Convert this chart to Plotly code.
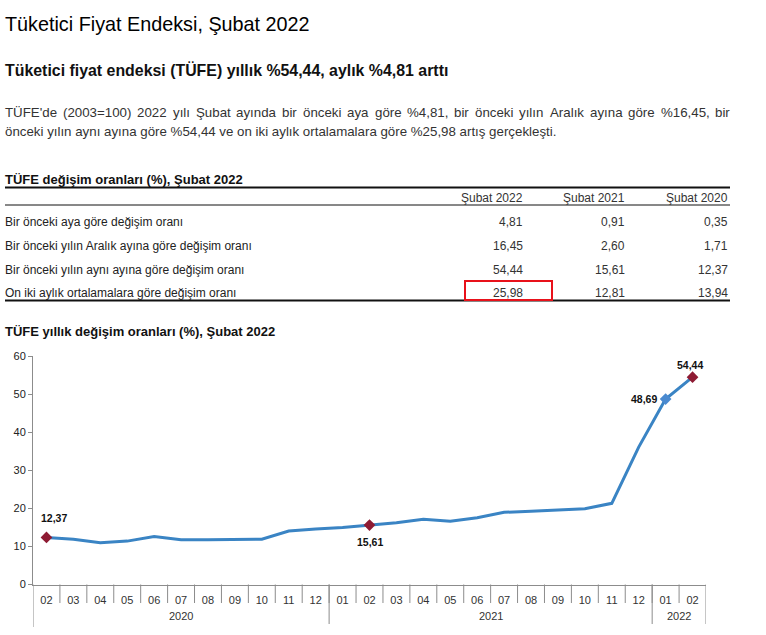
import plotly.graph_objects as go

W, H = 766, 635
def PX(x):
    return x / W
def PY(y):
    return 1 - y / H

# ---------------- data ----------------
months = ["02", "03", "04", "05", "06", "07", "08", "09", "10", "11", "12",
          "01", "02", "03", "04", "05", "06", "07", "08", "09", "10", "11", "12",
          "01", "02"]
years = ["2020"] * 11 + ["2021"] * 12 + ["2022"] * 2
cpi_annual = [12.37, 11.86, 10.94, 11.39, 12.62, 11.76, 11.77, 11.75, 11.89, 14.03, 14.60,
              14.97, 15.61, 16.19, 17.14, 16.59, 17.53, 18.95, 19.25, 19.58, 19.89, 21.31, 36.08,
              48.69, 54.44]
highlight_idx = [0, 12, 23, 24]
highlight_colors = ["#8E1B33", "#8E1B33", "#4A8AD0", "#8E1B33"]
label_shift = [(8, 19), (0, -17), (-22, 0), (-3, 12)]

page_title = "Tüketici Fiyat Endeksi, Şubat 2022"
page_subtitle = "Tüketici fiyat endeksi (TÜFE) yıllık %54,44, aylık %4,81 arttı"
para_line1 = ("TÜFE'de (2003=100) 2022 yılı Şubat ayında bir önceki aya göre %4,81, "
              "bir önceki yılın Aralık ayına göre %16,45, bir")
para_line2 = ("önceki yılın aynı ayına göre %54,44 ve on iki aylık ortalamalara göre "
              "%25,98 artış gerçekleşti.")

table_title = "TÜFE değişim oranları (%), Şubat 2022"
table_cols = ["Şubat 2022", "Şubat 2021", "Şubat 2020"]
table_rows = ["Bir önceki aya göre değişim oranı",
              "Bir önceki yılın Aralık ayına göre değişim oranı",
              "Bir önceki yılın aynı ayına göre değişim oranı",
              "On iki aylık ortalamalara göre değişim oranı"]
table_vals = [[4.81, 0.91, 0.35],
              [16.45, 2.60, 1.71],
              [54.44, 15.61, 12.37],
              [25.98, 12.81, 13.94]]
chart_title = "TÜFE yıllık değişim oranları (%), Şubat 2022"

def tr(v):
    return f"{v:.2f}".replace(".", ",")

categories = [f"{m}/{y}" for m, y in zip(months, years)]

FONT = "Liberation Sans, Arial, sans-serif"
LINE_COLOR = "#3A84C4"
AXIS_GRAY = "#8C8C8C"

fig = go.Figure()
fig.add_trace(go.Scatter(x=categories, y=cpi_annual, mode="lines",
                         line=dict(color=LINE_COLOR, width=3), hoverinfo="skip"))
fig.add_trace(go.Scatter(x=[categories[i] for i in highlight_idx],
                         y=[cpi_annual[i] for i in highlight_idx],
                         mode="markers",
                         marker=dict(symbol="diamond", size=9, color=highlight_colors),
                         hoverinfo="skip"))

annotations = []
shapes = []

def text(x, y, s, size, bold=False, color="#222", xanchor="left"):
    annotations.append(dict(x=PX(x), y=PY(y), xref="paper", yref="paper",
                            text=(f"<b>{s}</b>" if bold else s), showarrow=False,
                            xanchor=xanchor, yanchor="middle", borderpad=0, borderwidth=0,
                            font=dict(family=FONT, size=size, color=color)))

# titles
text(5, 24, page_title, 19.8, color="#000")
text(5, 70, page_subtitle, 15.9, bold=True, color="#111")

# justified paragraph (Arial metrics, per 1000 em)
AW = {' ': 278, "'": 191, '(': 333, ')': 333, '%': 889, ',': 278, '.': 278, '=': 584,
      'A': 667, 'B': 667, 'E': 667, 'F': 611, 'T': 611, 'Ü': 722, 'Ş': 667,
      'a': 556, 'b': 556, 'c': 500, 'd': 556, 'e': 556, 'f': 278, 'g': 556, 'h': 556,
      'i': 222, 'ı': 278, 'j': 222, 'k': 500, 'l': 222, 'm': 833, 'n': 556, 'o': 556,
      'ö': 556, 'p': 556, 'r': 333, 's': 500, 'ş': 500, 't': 278, 'u': 556, 'ü': 556,
      'v': 500, 'y': 500, 'z': 500, 'ğ': 556, 'ç': 500}
for d in "0123456789":
    AW[d] = 556
PFS = 13.3
def wwidth(w):
    return sum(AW.get(c, 556) for c in w) * PFS / 1000

words = para_line1.split(" ")
ww = [wwidth(w) for w in words]
gap = (725 - sum(ww)) / (len(words) - 1)
cx = 5
for w, wd in zip(words, ww):
    text(cx, 112, w, PFS, color="#333")
    cx += wd + gap
text(5, 132, para_line2, PFS, color="#333")

# table
text(5, 179, table_title, 13, bold=True, color="#111")
col_right = [523, 625, 728]
for c, lab in enumerate(table_cols):
    text(col_right[c], 198, lab, 12, color="#333", xanchor="right")
row_y = [222, 246, 269.5, 293]
for r, lab in enumerate(table_rows):
    text(5, row_y[r], lab, 12, color="#222")
    for c in range(3):
        text(col_right[c], row_y[r], tr(table_vals[r][c]), 12, color="#333", xanchor="right")
for y0, wdt in [(187.5, 2), (205, 1), (300.5, 2)]:
    shapes.append(dict(type="line", xref="paper", yref="paper", x0=PX(5), x1=PX(730),
                       y0=PY(y0), y1=PY(y0), line=dict(color="#111", width=wdt)))
shapes.append(dict(type="rect", xref="paper", yref="paper", x0=PX(465), x1=PX(552),
                   y0=PY(281), y1=PY(300), line=dict(color="#E8111A", width=2)))

# chart title
text(5, 331, chart_title, 13, bold=True, color="#111")

# data labels
for k, i in enumerate(highlight_idx):
    xs, ys = label_shift[k]
    annotations.append(dict(x=categories[i], y=cpi_annual[i], xref="x", yref="y",
                            text=f"<b>{tr(cpi_annual[i])}</b>", showarrow=False,
                            xshift=xs, yshift=ys, xanchor="center", yanchor="middle",
                            font=dict(family=FONT, size=10.5, color="#111")))

# hierarchical x axis: month separators and year groups
AX_BOTTOM = 584.5
for i in range(1, len(months)):
    shapes.append(dict(type="line", xref="x", yref="paper", x0=i - 0.5, x1=i - 0.5,
                       y0=PY(AX_BOTTOM), y1=PY(603), line=dict(color=AXIS_GRAY, width=1)))
year_groups = []
for i, y in enumerate(years):
    if not year_groups or year_groups[-1][0] != y:
        year_groups.append([y, i, i])
    else:
        year_groups[-1][2] = i
bounds = [g[1] - 0.5 for g in year_groups] + [year_groups[-1][2] + 0.5]
for b in bounds:
    shapes.append(dict(type="line", xref="x", yref="paper", x0=b, x1=b,
                       y0=PY(AX_BOTTOM), y1=PY(624 if b != bounds[0] else 627),
                       line=dict(color=AXIS_GRAY, width=1)))
for y, i0, i1 in year_groups:
    annotations.append(dict(x=(i0 + i1) / 2, y=PY(616), xref="x", yref="paper",
                            text=y, showarrow=False, xanchor="center", yanchor="middle",
                            font=dict(family=FONT, size=11, color="#333")))

fig.update_layout(
    template="none",
    width=W, height=H, autosize=False,
    margin=dict(l=0, r=0, t=0, b=0, pad=0, autoexpand=False),
    paper_bgcolor="white", plot_bgcolor="white",
    showlegend=False,
    font=dict(family=FONT, color="#333"),
    annotations=annotations, shapes=shapes,
    xaxis=dict(domain=[PX(33), PX(706)], type="category", categoryorder="array",
               categoryarray=categories, range=[-0.5, len(categories) - 0.5],
               tickvals=categories, ticktext=months, ticks="outside", ticklen=5,
               tickcolor="rgba(0,0,0,0)", showgrid=False, zeroline=False,
               showline=True, linecolor=AXIS_GRAY, linewidth=1, automargin=False,
               tickfont=dict(family=FONT, size=11, color="#333"), tickangle=0),
    yaxis=dict(domain=[PY(AX_BOTTOM), PY(356)], range=[0, 60], dtick=10,
               ticks="outside", ticklen=4, tickcolor=AXIS_GRAY, showgrid=False,
               zeroline=False, showline=True, linecolor=AXIS_GRAY, linewidth=1,
               automargin=False,
               tickfont=dict(family=FONT, size=11, color="#222")),
)

fig.write_html("out.html", config={"displayModeBar": False},
               post_script="document.body.style.margin='0';")
